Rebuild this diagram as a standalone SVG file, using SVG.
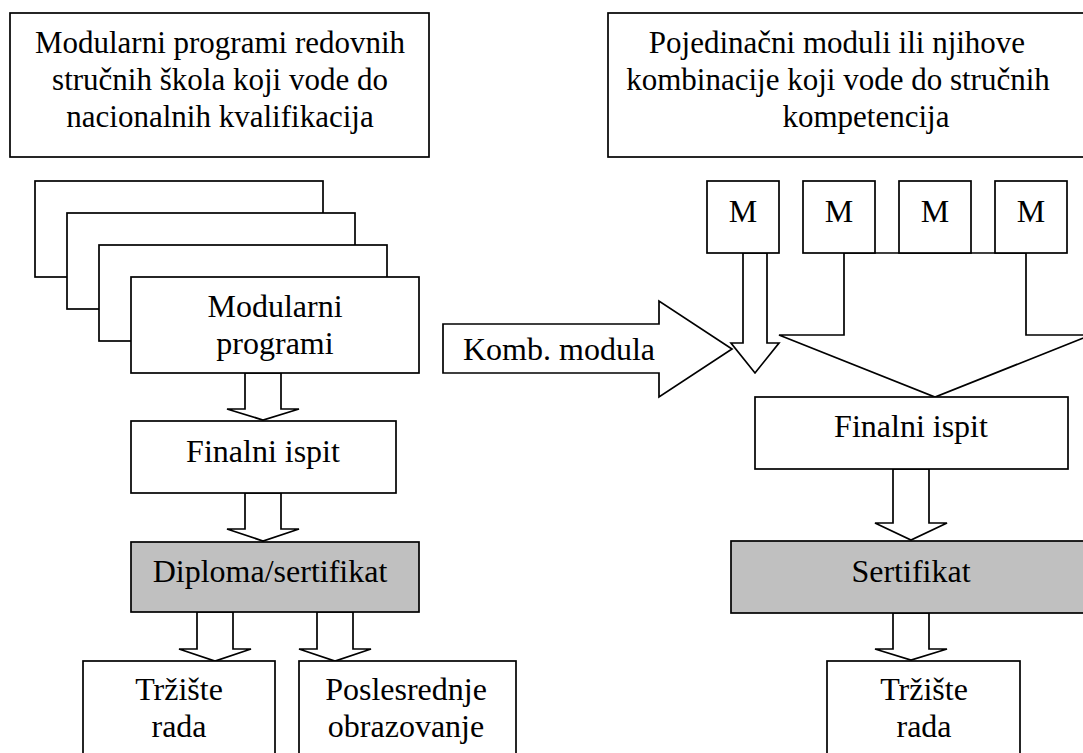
<svg xmlns="http://www.w3.org/2000/svg" width="1083" height="753" viewBox="0 0 1083 753" font-family="'Liberation Serif', 'DejaVu Serif', serif">
<style>
.b{fill:#fff;stroke:#000;stroke-width:1.7}
.g{fill:#c0c0c0;stroke:#000;stroke-width:1.7}
.a{fill:#fff;stroke:#000;stroke-width:1.7;stroke-linejoin:miter}
text{font-family:'Liberation Serif','DejaVu Serif',serif;font-size:32px;fill:#000;text-anchor:middle}
.s{font-size:31px}
</style>
<rect width="1083" height="753" fill="#fff"/>
<g id="connectors">
<polygon class="a" points="245,373 281,373 281,409 299,409 263,420 227,409 245,409"/>
<polygon class="a" points="245,493 281,493 281,529 299,529 263,541 227,529 245,529"/>
<polygon class="a" points="197,612 233,612 233,649 251,649 215,661 179,649 197,649"/>
<polygon class="a" points="317,612 353,612 353,649 371,649 335,661 299,649 317,649"/>
<polygon class="a" points="443,324 659,324 659,301 732,349 659,397 659,373 443,373"/>
<polygon class="a" points="844,253 844,335 779,335 935,397 1091,335 1026,335 1026,253"/>
<polygon class="a" points="743,253 743,343 731,343 755,373 779,343 767,343 767,253"/>
<polygon class="a" points="893,469 929,469 929,523 947,523 911,540 875,523 893,523"/>
<polygon class="a" points="893,613 929,613 929,649 947,649 911,660 875,649 893,649"/>
<text x="559" y="360">Komb. modula</text>
</g>
<g id="top-left">
<rect class="b" x="10" y="13" width="419" height="144"/>
<text class="s" x="220" y="53">Modularni programi redovnih</text>
<text class="s" x="220" y="90">stručnih škola koji vode do</text>
<text class="s" x="220" y="127">nacionalnih kvalifikacija</text>
</g>
<g id="top-right">
<rect class="b" x="608" y="13" width="482" height="144"/>
<text class="s" x="837" y="53">Pojedinačni moduli ili njihove</text>
<text class="s" x="838" y="90">kombinacije koji vode do stručnih</text>
<text class="s" x="866" y="127">kompetencija</text>
</g>
<g id="stack">
<rect class="b" x="35" y="181" width="288" height="96"/>
<rect class="b" x="67" y="213" width="288" height="96"/>
<rect class="b" x="99" y="245" width="288" height="96"/>
</g>
<g id="modularni-programi">
<rect class="b" x="131" y="277" width="288" height="96"/>
<text x="275" y="317">Modularni</text>
<text x="275" y="354">programi</text>
</g>
<g id="finalni-left">
<rect class="b" x="131" y="421" width="265" height="72"/>
<text x="263" y="462">Finalni ispit</text>
</g>
<g id="diploma">
<rect class="g" x="131" y="542" width="288" height="70"/>
<text x="270" y="582">Diploma/sertifikat</text>
</g>
<g id="trziste-left">
<rect class="b" x="83" y="661" width="192" height="100"/>
<text x="179" y="700">Tržište</text>
<text x="179" y="737">rada</text>
</g>
<g id="poslesrednje">
<rect class="b" x="299" y="661" width="217" height="100"/>
<text x="406" y="700">Poslesrednje</text>
<text x="406" y="737">obrazovanje</text>
</g>
<g id="m1"><rect class="b" x="707" y="181" width="72" height="72"/><text x="743" y="222">M</text></g>
<g id="m2"><rect class="b" x="803" y="181" width="72" height="72"/><text x="839" y="222">M</text></g>
<g id="m3"><rect class="b" x="899" y="181" width="72" height="72"/><text x="935" y="222">M</text></g>
<g id="m4"><rect class="b" x="995" y="181" width="72" height="72"/><text x="1031" y="222">M</text></g>
<g id="finalni-right">
<rect class="b" x="755" y="397" width="313" height="72"/>
<text x="911" y="437">Finalni ispit</text>
</g>
<g id="sertifikat">
<rect class="g" x="731" y="541" width="360" height="72"/>
<text x="911" y="582">Sertifikat</text>
</g>
<g id="trziste-right">
<rect class="b" x="827" y="661" width="193" height="100"/>
<text x="924" y="700">Tržište</text>
<text x="924" y="737">rada</text>
</g>
</svg>
